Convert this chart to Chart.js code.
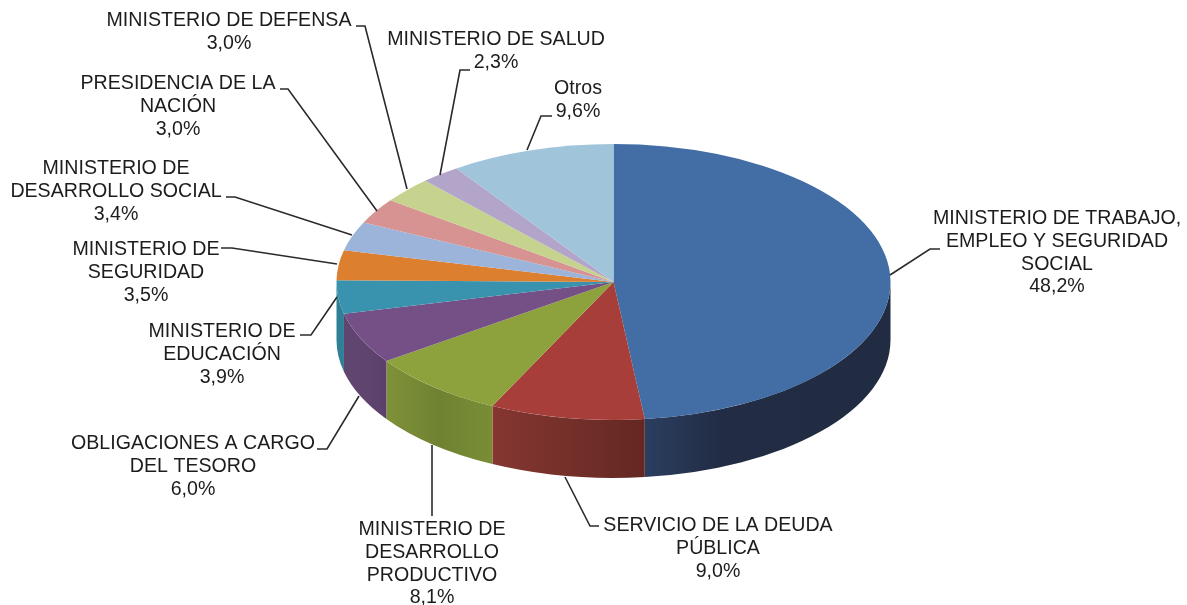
<!DOCTYPE html>
<html>
<head>
<meta charset="utf-8">
<style>html,body{margin:0;padding:0;background:#fff}canvas{display:block}</style>
<script src="https://cdn.jsdelivr.net/npm/chart.js@4"></script>
</head>
<body>
<canvas id="c" width="1187" height="605"></canvas>
<script>
const categories = ["MINISTERIO DE TRABAJO, EMPLEO Y SEGURIDAD SOCIAL","SERVICIO DE LA DEUDA PÚBLICA","MINISTERIO DE DESARROLLO PRODUCTIVO","OBLIGACIONES A CARGO DEL TESORO","MINISTERIO DE EDUCACIÓN","MINISTERIO DE SEGURIDAD","MINISTERIO DE DESARROLLO SOCIAL","PRESIDENCIA DE LA NACIÓN","MINISTERIO DE DEFENSA","MINISTERIO DE SALUD","Otros"];
const values = [48.2,9.0,8.1,6.0,3.9,3.5,3.4,3.0,3.0,2.3,9.6];
const percentLabels = ["48,2%","9,0%","8,1%","6,0%","3,9%","3,5%","3,4%","3,0%","3,0%","2,3%","9,6%"];
const topColors = ["#426da5","#a73e39","#8da23d","#745087","#3a93ae","#dc7f2e","#9db4da","#d69391","#c5d38f","#b3a5c9","#a0c5da"];
const sideColors = [["#2b3e60","#222d45","#212c42"],["#863531","#74302a","#642722"],["#7f9238","#6f8231","#7a8d35"],["#60466f","#5f4470","#5c406b"],["#2f7f96","#2f7f96","#2f7f96"],[],[],[],[],[],[]];
const labelLines = [["MINISTERIO DE TRABAJO,","EMPLEO Y SEGURIDAD","SOCIAL"],["SERVICIO DE LA DEUDA","PÚBLICA"],["MINISTERIO DE","DESARROLLO","PRODUCTIVO"],["OBLIGACIONES A CARGO","DEL TESORO"],["MINISTERIO DE","EDUCACIÓN"],["MINISTERIO DE","SEGURIDAD"],["MINISTERIO DE","DESARROLLO SOCIAL"],["PRESIDENCIA DE LA","NACIÓN"],["MINISTERIO DE DEFENSA"],["MINISTERIO DE SALUD"],["Otros"]];
const labelAnchors = [[1057,219],[718,526],[432,530],[193,444],[222,332],[146,250],[116,169],[178,84],[229,21],[496,40],[578,89]];
const leaders = [
 [[890,275],[930,249],[940,249]],
 [[565,477],[590,526],[599,526]],
 [[432,445],[432,516]],
 [[359,396],[327,449],[317,449]],
 [[337,297],[311,335],[300,335]],
 [[337,264],[232,248],[221,248]],
 [[352,235],[235,197],[226,197]],
 [[377,211],[288,89],[280,89]],
 [[407,189],[365,26],[356,26]],
 [[440,175],[460,70],[470,70]],
 [[527,150],[541,116],[552,116]]
];
const PIE_CY = 282, SQUASH = 0.498, DEPTH = 58, LINE_H = 22.6;

const pie3d = {
  id: 'pie3d',
  beforeDatasetsDraw(chart) {
    const ctx = chart.ctx, arcs = chart.getDatasetMeta(0).data;
    ctx.save();
    arcs.forEach((arc, i) => {
      const a = Math.max(arc.startAngle, 0), b = Math.min(arc.endAngle, Math.PI);
      if (b <= a || !sideColors[i].length) return;
      const rx = arc.outerRadius, ry = rx * SQUASH, cx = arc.x;
      const x0 = cx + rx * Math.cos(b), x1 = cx + rx * Math.cos(a);
      const g = ctx.createLinearGradient(x0, 0, x1, 0);
      const stops = sideColors[i];
      g.addColorStop(0, stops[0]);
      g.addColorStop(i === 0 ? 0.3 : 0.5, stops[1]);
      g.addColorStop(1, stops[2]);
      ctx.beginPath();
      ctx.ellipse(cx, PIE_CY, rx, ry, 0, a, b, false);
      ctx.ellipse(cx, PIE_CY + DEPTH, rx, ry, 0, b, a, true);
      ctx.closePath();
      ctx.fillStyle = g;
      ctx.fill();
    });
    const cy = arcs[0].y;
    ctx.translate(0, PIE_CY);
    ctx.scale(1, SQUASH);
    ctx.translate(0, -cy);
  },
  afterDatasetsDraw(chart) {
    const ctx = chart.ctx;
    ctx.restore();
    ctx.save();
    ctx.strokeStyle = '#2b2b2b';
    ctx.lineWidth = 1.6;
    leaders.forEach(pts => {
      ctx.beginPath();
      pts.forEach((p, k) => k ? ctx.lineTo(p[0], p[1]) : ctx.moveTo(p[0], p[1]));
      ctx.stroke();
    });
    ctx.fillStyle = '#1c1c1c';
    ctx.font = '19.6px "Liberation Sans", Arial, sans-serif';
    ctx.textAlign = 'center';
    ctx.textBaseline = 'middle';
    labelLines.forEach((lines, i) => {
      const [x, y] = labelAnchors[i];
      lines.concat(percentLabels[i]).forEach((t, k) => ctx.fillText(t, x, y + k * LINE_H));
    });
    ctx.restore();
  }
};

new Chart(document.getElementById('c'), {
  type: 'pie',
  data: { labels: categories, datasets: [{ data: values, backgroundColor: topColors, borderWidth: 0, radius: 277, hoverOffset: 0 }] },
  options: {
    responsive: false,
    animation: false,
    layout: { padding: { left: 40 } },
    plugins: { legend: { display: false }, tooltip: { enabled: false } }
  },
  plugins: [pie3d]
});
</script>
</body>
</html>
